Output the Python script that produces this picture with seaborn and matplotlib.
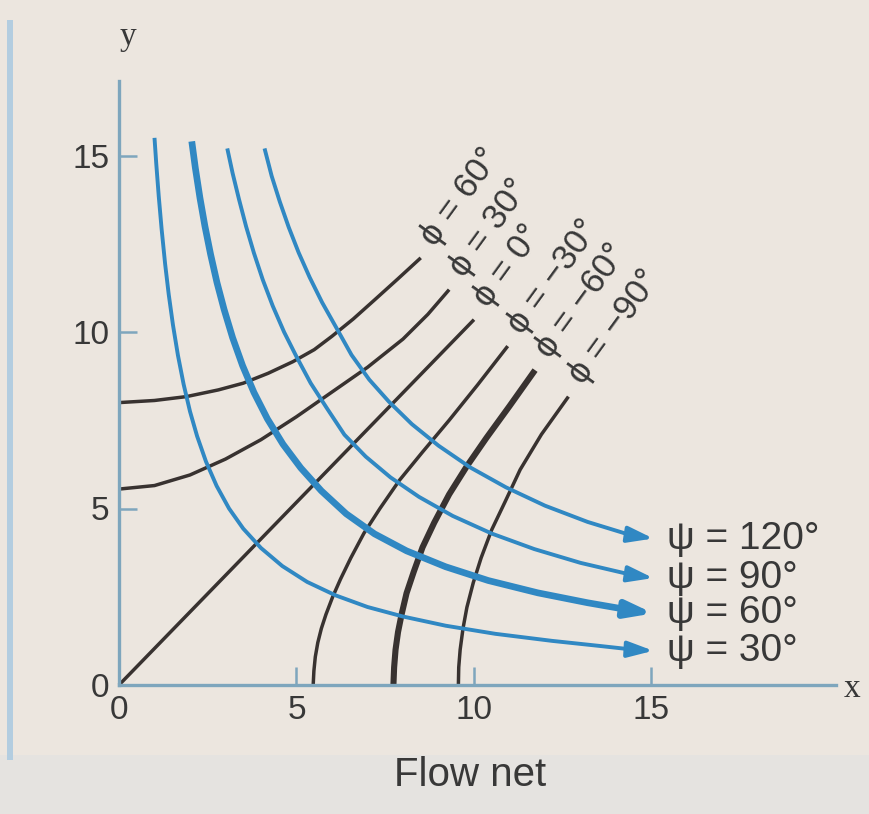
import matplotlib
matplotlib.use("Agg")
import matplotlib.pyplot as plt
from matplotlib.patches import Rectangle
import seaborn as sns

# ---- streamlines psi (blue) ----
psi_labels = ["ψ = 30°", "ψ = 60°", "ψ = 90°", "ψ = 120°"]

psi30_x = [1.0, 1.05, 1.12, 1.2, 1.3, 1.4, 1.52, 1.66, 1.82, 2.0, 2.2, 2.45, 2.75, 3.1, 3.5,
           4.0, 4.6, 5.3, 6.1, 7.0, 8.0, 9.2, 10.6, 12.2, 13.6, 14.5]
psi30_y = [15.5, 14.76, 13.84, 12.92, 11.92, 11.07, 10.2, 9.34, 8.52, 7.75, 7.05, 6.33, 5.64, 5.0, 4.43,
           3.88, 3.37, 2.92, 2.54, 2.21, 1.94, 1.68, 1.45, 1.25, 1.1, 1.0]

psi60_x = [2.05, 2.15, 2.28, 2.42, 2.58, 2.76, 2.96, 3.2, 3.48, 3.8, 4.18, 4.62, 5.12, 5.7, 6.4,
           7.2, 8.1, 9.2, 10.4, 11.8, 13.2, 14.4]
psi60_y = [15.4, 14.65, 13.8, 13.0, 12.2, 11.4, 10.64, 9.84, 9.05, 8.29, 7.54, 6.82, 6.15, 5.5, 4.85,
           4.28, 3.8, 3.35, 2.96, 2.61, 2.33, 2.12]

psi90_x = [3.05, 3.2, 3.38, 3.58, 3.8, 4.05, 4.33, 4.65, 5.0, 5.4, 5.85, 6.35, 6.95, 7.65, 8.45,
           9.4, 10.5, 11.7, 13.0, 14.4]
psi90_y = [15.2, 14.5, 13.76, 12.99, 12.24, 11.48, 10.74, 10.0, 9.3, 8.55, 7.85, 7.09, 6.47, 5.88, 5.33,
           4.79, 4.29, 3.85, 3.46, 3.13]

psi120_x = [4.1, 4.3, 4.53, 4.78, 5.06, 5.37, 5.72, 6.1, 6.55, 7.05, 7.6, 8.25, 9.0, 9.9, 10.9,
            12.0, 13.2, 14.4]
psi120_y = [15.2, 14.42, 13.69, 12.97, 12.25, 11.55, 10.84, 10.16, 9.35, 8.65, 8.03, 7.39, 6.78, 6.16, 5.6,
            5.08, 4.62, 4.25]

psi_tip_x = [15.05, 15.05, 15.05, 15.05]
psi_tip_y = [0.97, 2.03, 3.03, 4.15]

# ---- potential lines phi (black) ----
phi_labels = ["ϕ = 60°", "ϕ = 30°", "ϕ = 0°", "ϕ = −30°", "ϕ = −60°", "ϕ = −90°"]

phi60_x = [0.0, 1.0, 1.9, 2.8, 3.5, 4.2, 4.9, 5.5, 6.0, 6.6, 7.2, 7.85, 8.5]
phi60_y = [8.0, 8.06, 8.17, 8.36, 8.55, 8.83, 9.16, 9.5, 9.88, 10.37, 10.91, 11.5, 12.1]

phi30_x = [0.0, 1.0, 2.0, 3.0, 4.0, 5.0, 6.0, 7.0, 8.0, 8.7, 9.3]
phi30_y = [5.55, 5.65, 5.95, 6.4, 6.95, 7.6, 8.3, 9.0, 9.8, 10.5, 11.2]

phi0_x = [0.0, 10.0]
phi0_y = [0.0, 10.35]

phim30_x = [5.47, 5.49, 5.53, 5.6, 5.7, 5.83, 6.02, 6.24, 6.53, 6.9, 7.35, 7.9, 8.55, 9.3, 10.1, 10.95]
phim30_y = [0.0, 0.4, 0.8, 1.2, 1.6, 2.0, 2.5, 3.0, 3.6, 4.3, 5.0, 5.8, 6.6, 7.5, 8.5, 9.6]

phim60_x = [7.73, 7.75, 7.79, 7.86, 7.96, 8.1, 8.3, 8.55, 8.88, 9.3, 9.8, 10.35, 11.0, 11.72]
phim60_y = [0.0, 0.5, 1.0, 1.5, 2.0, 2.6, 3.2, 3.9, 4.6, 5.4, 6.2, 7.0, 7.9, 8.92]

phim90_x = [9.56, 9.57, 9.61, 9.69, 9.8, 9.98, 10.2, 10.5, 10.88, 11.3, 11.9, 12.66]
phim90_y = [0.0, 0.5, 1.0, 1.6, 2.2, 2.9, 3.6, 4.4, 5.2, 6.1, 7.1, 8.17]

ticks = [0, 5, 10, 15]

# 색/스타일
blue = "#3088c3"
dark = "#383230"
axis_col = "#7ea6bd"
txt_col = "#383838"

sns.set_style("white")
plt.rcParams["font.family"] = ["Liberation Sans", "DejaVu Sans"]

fig = plt.figure(figsize=(8.7, 8.14), dpi=100)
fig.patch.set_facecolor("#ece6df")
# 아래 캡션 띠
fig.patches.append(Rectangle((0, 0), 1, 59 / 814, transform=fig.transFigure,
                             facecolor="#e5e3e0", edgecolor="none", zorder=-1))
# 왼쪽 페이지 줄
fig.patches.append(Rectangle((7 / 870, 54 / 814), 6 / 870, 740 / 814, transform=fig.transFigure,
                             facecolor="#b3cde0", edgecolor="none", zorder=-1))

ax = fig.add_axes([0, 0, 1, 1])
ax.set_facecolor("none")

# potential lines first, streamlines on top
phi_curves = [(phi60_x, phi60_y), (phi30_x, phi30_y), (phi0_x, phi0_y),
              (phim30_x, phim30_y), (phim60_x, phim60_y), (phim90_x, phim90_y)]
for i, (xs, ys) in enumerate(phi_curves):
    lw = 4.4 if i == 4 else 2.5
    sns.lineplot(x=xs, y=ys, ax=ax, color=dark, lw=lw, sort=False, estimator=None,
                 legend=False, solid_capstyle="butt")
    ax.text(xs[-1] + 0.2, ys[-1] + 0.45, phi_labels[i], rotation=54, rotation_mode="anchor",
            ha="left", va="center", fontsize=25, color=txt_col)

psi_curves = [(psi30_x, psi30_y), (psi60_x, psi60_y), (psi90_x, psi90_y), (psi120_x, psi120_y)]
for i, (xs, ys) in enumerate(psi_curves):
    lw = 4.8 if i == 1 else 2.8
    sns.lineplot(x=xs, y=ys, ax=ax, color=blue, lw=lw, sort=False, estimator=None,
                 legend=False, solid_capstyle="butt")
    ax.annotate("", xy=(psi_tip_x[i], psi_tip_y[i]), xytext=(xs[-1], ys[-1]),
                arrowprops=dict(arrowstyle="-|>,head_length=0.7,head_width=0.22",
                                mutation_scale=22, color=blue, lw=lw,
                                shrinkA=0, shrinkB=0))
    ax.text(psi_tip_x[i] + 0.4, psi_tip_y[i], psi_labels[i], ha="left", va="center",
            fontsize=28, color=txt_col)

# 축: 픽셀 맞춤 (x0=119px, 35.5px/unit ; y0=685px, 35.3px/unit)
ax.set_xlim(-119 / 35.5, (870 - 119) / 35.5)
ax.set_ylim(-(814 - 685) / 35.3, 685 / 35.3)

for s in ["top", "right"]:
    ax.spines[s].set_visible(False)
for s in ["left", "bottom"]:
    ax.spines[s].set_position(("data", 0))
    ax.spines[s].set_color(axis_col)
    ax.spines[s].set_linewidth(2.4)
ax.spines["left"].set_bounds(0, 17.1)
ax.spines["bottom"].set_bounds(0, 20.2)

ax.set_xticks(ticks)
ax.set_yticks(ticks)
ax.tick_params(bottom=True, left=True, direction="in", length=13, width=1.8, color=axis_col,
               labelsize=24, labelcolor=txt_col, pad=7)

ax.text(0.25, 18.35, "y", fontsize=24, color=txt_col, ha="center", va="center",
        family=["Liberation Serif", "DejaVu Serif"])
ax.text(20.65, -0.1, "x", fontsize=24, color=txt_col, ha="center", va="center",
        family=["Liberation Serif", "DejaVu Serif"])
ax.text(9.9, -2.55, "Flow net", fontsize=29, color=txt_col, ha="center", va="center")

fig.savefig("out.png", dpi=100, facecolor=fig.get_facecolor())
